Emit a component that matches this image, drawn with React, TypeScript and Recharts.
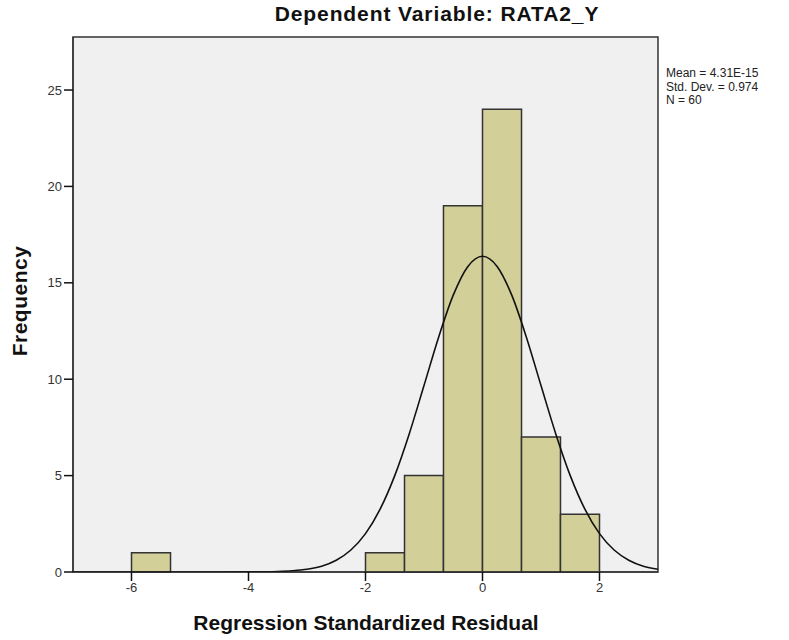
import React from 'react';
import {
  ComposedChart,
  Line,
  XAxis,
  YAxis,
  ReferenceArea,
} from 'recharts';

// histogram bins (lower edge, upper edge, count)
const binStarts = [-6, -2, -1.333, -0.667, 0, 0.667, 1.333];
const binEnds = [-5.333, -1.333, -0.667, 0, 0.667, 1.333, 2];
const binCounts = [1, 1, 5, 19, 24, 7, 3];

// normal curve
const curveX = [
  -7, -6.5, -6, -5.5, -5, -4.5, -4, -3.75, -3.5, -3.25, -3, -2.75, -2.5, -2.25, -2,
  -1.75, -1.5, -1.25, -1, -0.75, -0.5, -0.25, 0, 0.25, 0.5, 0.75, 1, 1.25, 1.5,
  1.75, 2, 2.25, 2.5, 2.75, 3,
];
const curveY = [
  0, 0, 0, 0, 0, 0, 0.004, 0.01, 0.026, 0.063, 0.14, 0.3, 0.61, 1.14, 1.99,
  3.26, 5.0, 7.19, 9.67, 12.18, 14.36, 15.85, 16.38, 15.85, 14.36, 12.18, 9.67, 7.19, 5.0,
  3.26, 1.99, 1.14, 0.61, 0.3, 0.14,
];

const xTicks = [-6, -4, -2, 0, 2];
const yTicks = [0, 5, 10, 15, 20, 25];
const statLines = ['Mean = 4.31E-15', 'Std. Dev. = 0.974', 'N = 60'];

const curveData = curveX.map((x, i) => ({ x, y: curveY[i] }));

const font = '"Liberation Sans", Arial, sans-serif';
const tickStyle = { fontSize: 13, fill: '#333', fontFamily: font };

export default function App() {
  return (
    <div style={{ position: 'absolute', left: 0, top: 0, width: 789, height: 640, background: '#fff', fontFamily: font }}>
      <ComposedChart
        width={789}
        height={640}
        data={curveData}
        margin={{ top: 37, right: 131, bottom: 38, left: 13 }}
      >
        <XAxis
          dataKey="x"
          type="number"
          domain={[-7, 3]}
          ticks={xTicks}
          tickSize={9}
          tickMargin={2}
          height={30}
          tick={tickStyle}
          tickLine={{ stroke: '#111', strokeWidth: 1.5 }}
          axisLine={{ stroke: '#222' }}
        />
        <YAxis
          type="number"
          domain={[0, 27.75]}
          ticks={yTicks}
          allowDataOverflow
          tickSize={9}
          tickMargin={2}
          width={60}
          tick={tickStyle}
          tickLine={{ stroke: '#111', strokeWidth: 1.5 }}
          axisLine={{ stroke: '#222' }}
        />
        <ReferenceArea
          x1={-7}
          x2={3}
          y1={0}
          y2={27.75}
          fill="#f0f0f0"
          fillOpacity={1}
          stroke="#333"
          strokeWidth={1.5}
        />
        {binCounts.map((c, i) => (
          <ReferenceArea
            key={i}
            x1={binStarts[i]}
            x2={binEnds[i]}
            y1={0}
            y2={c}
            fill="#d3cf99"
            fillOpacity={1}
            stroke="#333"
            strokeWidth={1.5}
          />
        ))}
        <Line
          dataKey="y"
          type="monotone"
          dot={false}
          stroke="#111"
          strokeWidth={1.6}
          isAnimationActive={false}
        />
      </ComposedChart>
      <div style={{ position: 'absolute', top: 2, left: 237, width: 400, textAlign: 'center', fontSize: 21, letterSpacing: 0.9, fontWeight: 'bold', color: '#111' }}>
        Dependent Variable: RATA2_Y
      </div>
      <div style={{ position: 'absolute', top: 67, left: 666, fontSize: 12, lineHeight: '13.5px', color: '#222' }}>
        {statLines.map((s) => (
          <div key={s}>{s}</div>
        ))}
      </div>
      <div style={{ position: 'absolute', top: 611, left: 166, width: 400, textAlign: 'center', fontSize: 21, fontWeight: 'bold', color: '#111' }}>
        Regression Standardized Residual
      </div>
      <div
        style={{
          position: 'absolute',
          left: 20,
          top: 301,
          transform: 'translate(-50%, -50%) rotate(-90deg)',
          fontSize: 21,
          letterSpacing: 0.5,
          fontWeight: 'bold',
          color: '#111',
          whiteSpace: 'nowrap',
        }}
      >
        Frequency
      </div>
    </div>
  );
}
